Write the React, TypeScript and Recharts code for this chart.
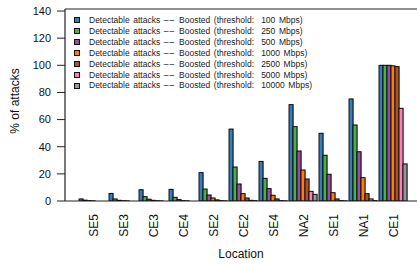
import { Bar, BarChart, XAxis, YAxis, ReferenceLine } from 'recharts'

const locations = ['SE5', 'SE3', 'CE3', 'CE4', 'SE2', 'CE2', 'SE4', 'NA2', 'SE1', 'NA1', 'CE1']
const thresholds = ['100', '250', '500', '1000', '2500', '5000', '10000']
const colors = ['#377eb8', '#4daf4a', '#984ea3', '#ff7f00', '#a65628', '#f781bf', '#999999']

const t100 = [1.5, 5.6, 8.3, 8.6, 20.9, 53, 29.2, 71, 49.9, 75.2, 100]
const t250 = [0.6, 1.5, 3.2, 2.7, 8.8, 25, 16.7, 54.8, 33.7, 56, 100]
const t500 = [0.3, 0.5, 1.3, 1.0, 4.4, 12.5, 9.1, 36.8, 19.7, 36.3, 100]
const t1000 = [0.1, 0.2, 0.5, 0.3, 2.2, 5.4, 4.2, 22.8, 6.1, 17.2, 99.6]
const t2500 = [0, 0.1, 0.2, 0.1, 0.8, 2.2, 1.5, 16.2, 1.5, 5.4, 99]
const t5000 = [0, 0, 0.1, 0, 0.3, 0.5, 0.3, 7.1, 0.3, 1.5, 68.3]
const t10000 = [0, 0, 0, 0, 0.1, 0.3, 0.1, 4.9, 0.1, 0.3, 27.3]

const series = [t100, t250, t500, t1000, t2500, t5000, t10000]
const yTicks = [0, 20, 40, 60, 80, 100, 120, 140]

const data = locations.map((loc, i) => {
  const row: Record<string, string | number> = { loc }
  series.forEach((s, k) => { row['t' + k] = s[i] })
  return row
})

const FONT = '"Liberation Sans", Arial, sans-serif'

// bar with a faint grey drop shadow, like the matplotlib original
const ShadowBar = (props: any) => {
  const { x, y, width, height, fill } = props
  if (!height || height <= 0) return null
  return (
    <g>
      <rect x={x + 1} y={y - 0.5} width={width} height={height + 0.5} fill="#000" fillOpacity={0.3} />
      <rect x={x} y={y} width={width} height={height} fill={fill} stroke="#000" strokeWidth={0.9} />
    </g>
  )
}

const LocTick = (props: any) => {
  const { x, payload } = props
  return (
    <text
      transform={`translate(${x + 1},${214}) rotate(-90)`}
      textAnchor="end"
      dominantBaseline="central"
      fontSize={12}
      fontFamily={FONT}
      fill="#111"
    >
      {payload.value}
    </text>
  )
}

const YLabel = (props: any) => {
  const vb = props.viewBox || { x: 0, y: 9, height: 192 }
  const cx = 15
  const cy = vb.y + vb.height / 2 - 4
  return (
    <text
      transform={`translate(${cx},${cy}) rotate(-90)`}
      textAnchor="middle"
      dominantBaseline="central"
      fontSize={12}
      fontFamily={FONT}
      fill="#111"
    >
      % of attacks
    </text>
  )
}

const LegendBox = () => (
  <div
    style={{
      position: 'absolute',
      left: 74,
      top: 15,
      fontFamily: FONT,
      fontSize: 8.5,
      color: '#1a1a1a',
      lineHeight: '10.9px',
      wordSpacing: 1.2,
    }}
  >
    {thresholds.map((t, k) => (
      <div key={t} style={{ display: 'flex', alignItems: 'center', whiteSpace: 'pre' }}>
        <span
          style={{
            display: 'inline-block',
            width: 4,
            height: 4,
            background: colors[k],
            border: '1px solid #111',
            marginRight: 9,
          }}
        />
        <span>
          {'Detectable attacks '}
          <span style={{ letterSpacing: 1.2 }}>––</span>
          {` Boosted (threshold:  ${t} Mbps)`}
        </span>
      </div>
    ))}
  </div>
)

export default function App() {
  return (
    <div style={{ position: 'absolute', left: 0, top: 0, width: 417, height: 265, background: '#fff' }}>
      <BarChart
        width={417}
        height={265}
        data={data}
        margin={{ top: 9, right: 0, left: 0, bottom: 0 }}
        barGap={0}
        barCategoryGap={1}
      >
        <XAxis
          dataKey="loc"
          height={64}
          tickLine={false}
          tick={<LocTick />}
          interval={0}
          padding={{ left: 13, right: 9 }}
          axisLine={{ stroke: '#222', strokeWidth: 1.2 }}
          label={{ value: 'Location', position: 'insideBottom', offset: 7, fontSize: 12, fontFamily: FONT, fill: '#111' }}
        />
        <YAxis
          width={65}
          domain={[0, 141.5]}
          ticks={yTicks}
          allowDataOverflow
          tickSize={8}
          tickMargin={6}
          tick={{ fontSize: 11, fontFamily: FONT, fill: '#111' }}
          tickLine={{ stroke: '#222' }}
          axisLine={{ stroke: '#222', strokeWidth: 1.2 }}
          label={<YLabel />}
        />
        <ReferenceLine y={141.5} stroke="#222" strokeWidth={1.2} />
        {series.map((_, k) => (
          <Bar
            key={k}
            dataKey={'t' + k}
            fill={colors[k]}
            barSize={4}
            shape={<ShadowBar />}
            isAnimationActive={false}
          />
        ))}
      </BarChart>
      <LegendBox />
    </div>
  )
}
